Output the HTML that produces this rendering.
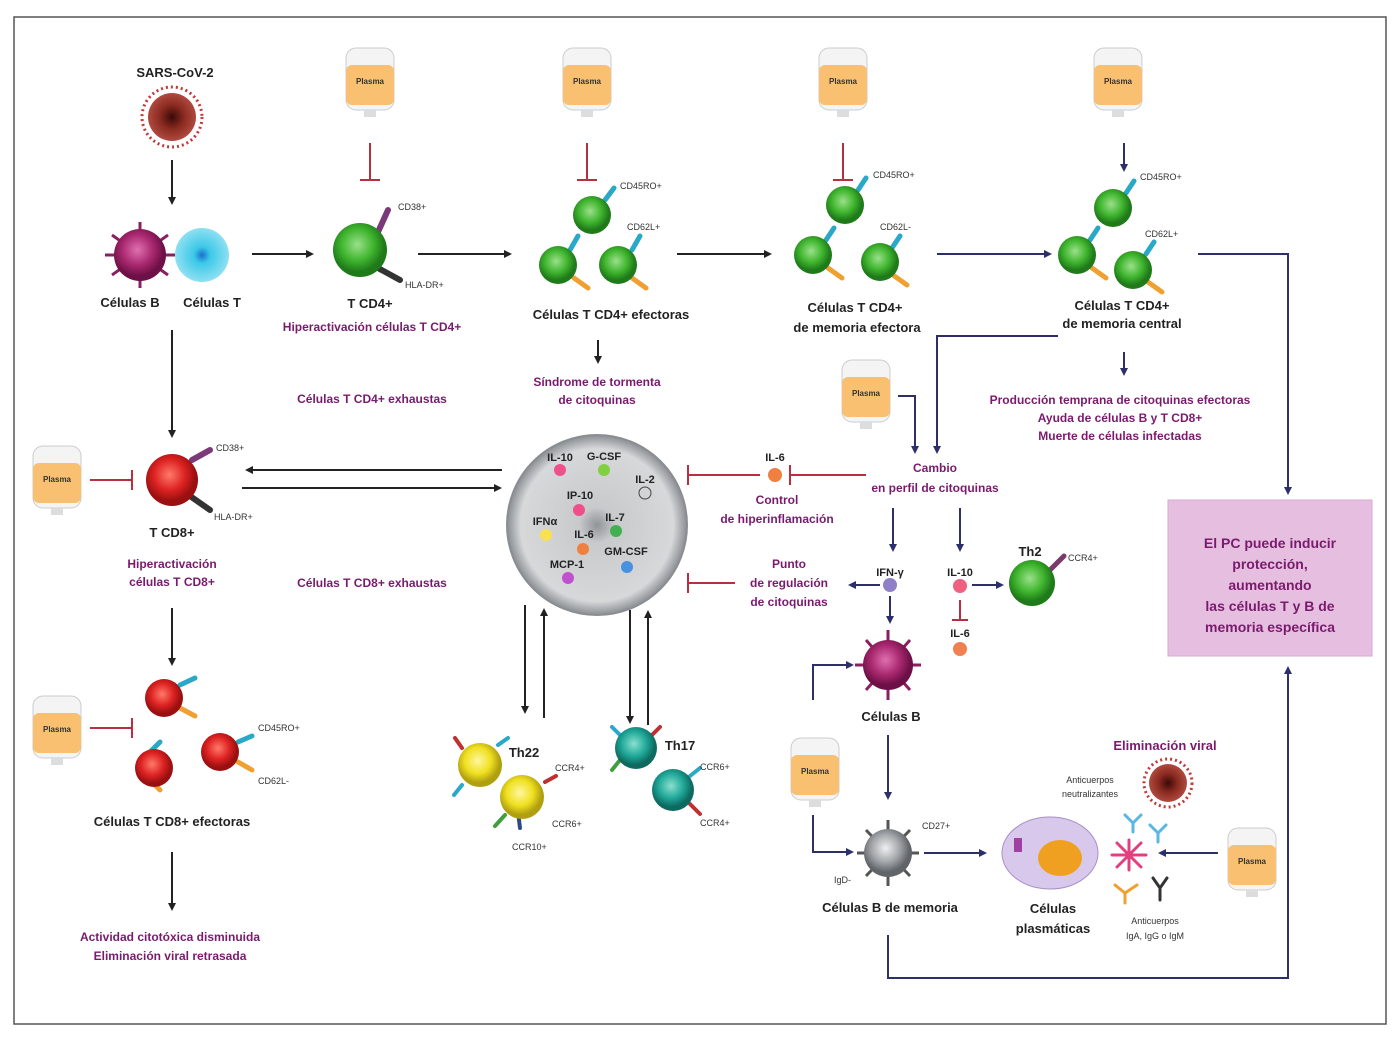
<!DOCTYPE html>
<html><head><meta charset="utf-8"><style>
html,body{margin:0;padding:0;background:#fff}
svg{display:block}
text{font-family:"Liberation Sans",sans-serif;font-weight:bold}
.k{fill:#222;font-size:13px}
.p{fill:#7a1a6e;font-size:12px}
.s{fill:#333;font-size:9px;font-weight:normal}
.c{fill:#222;font-size:11px}
</style></head><body>
<svg width="1400" height="1041" viewBox="0 0 1400 1041" xmlns="http://www.w3.org/2000/svg">
<defs>
<radialGradient id="gG" cx="45%" cy="40%"><stop offset="0" stop-color="#9be08a"/><stop offset="0.6" stop-color="#3fb52e"/><stop offset="1" stop-color="#1f7a1a"/></radialGradient>
<radialGradient id="gR" cx="45%" cy="40%"><stop offset="0" stop-color="#ff7a6a"/><stop offset="0.6" stop-color="#dd2222"/><stop offset="1" stop-color="#9a1010"/></radialGradient>
<radialGradient id="gC" cx="50%" cy="50%"><stop offset="0" stop-color="#1a6fd0"/><stop offset="0.3" stop-color="#3cc8e8"/><stop offset="1" stop-color="#8ee0f2"/></radialGradient>
<radialGradient id="gM" cx="45%" cy="40%"><stop offset="0" stop-color="#e070b0"/><stop offset="0.6" stop-color="#a8286e"/><stop offset="1" stop-color="#6e1048"/></radialGradient>
<radialGradient id="gY" cx="45%" cy="40%"><stop offset="0" stop-color="#fff6a0"/><stop offset="0.6" stop-color="#f0e020"/><stop offset="1" stop-color="#b0a010"/></radialGradient>
<radialGradient id="gT" cx="45%" cy="40%"><stop offset="0" stop-color="#8ae0d0"/><stop offset="0.6" stop-color="#1fa898"/><stop offset="1" stop-color="#0e6a60"/></radialGradient>
<radialGradient id="gS" cx="45%" cy="40%"><stop offset="0" stop-color="#f0f0f0"/><stop offset="0.6" stop-color="#a0a4a8"/><stop offset="1" stop-color="#606468"/></radialGradient>
<radialGradient id="gBig" cx="50%" cy="50%"><stop offset="0" stop-color="#909498"/><stop offset="0.2" stop-color="#c8cacc"/><stop offset="0.85" stop-color="#d6d8da"/><stop offset="1" stop-color="#8a8e92"/></radialGradient>
<radialGradient id="gV" cx="50%" cy="50%"><stop offset="0" stop-color="#3a0a08"/><stop offset="0.5" stop-color="#8a2a20"/><stop offset="1" stop-color="#b04a40"/></radialGradient>
<marker id="ab" markerWidth="8" markerHeight="8" refX="6" refY="4" orient="auto" markerUnits="userSpaceOnUse"><path d="M0,0 L8,4 L0,8z" fill="#2c2f6a"/></marker>
<marker id="ak" markerWidth="8" markerHeight="8" refX="6" refY="4" orient="auto" markerUnits="userSpaceOnUse"><path d="M0,0 L8,4 L0,8z" fill="#222"/></marker>
<g id="bag"><rect x="-24" y="-32" width="48" height="62" rx="10" fill="#f4f4f4" stroke="#ccc"/><rect x="-24" y="-15" width="48" height="40" rx="6" fill="#f8c070"/><rect x="-6" y="30" width="12" height="7" fill="#ddd"/><text x="0" y="4" text-anchor="middle" style="font-size:8px;fill:#333">Plasma</text></g>
</defs>
<rect x="14" y="17" width="1372" height="1007" fill="#fff" stroke="#555" stroke-width="1.5"/>

<text x="175" y="77" class="k" text-anchor="middle">SARS-CoV-2</text>
<g stroke="#c03a3a" stroke-width="3" stroke-dasharray="2 3"><circle cx="172" cy="117" r="30" fill="none"/></g>
<circle cx="172" cy="117" r="24" fill="url(#gV)"/>
<line x1="172" y1="160" x2="172" y2="203" stroke="#222" stroke-width="2" marker-end="url(#ak)"/>

<g stroke="#8a2060" stroke-width="3"><line x1="112" y1="235" x2="168" y2="275"/><line x1="112" y1="275" x2="168" y2="235"/><line x1="140" y1="222" x2="140" y2="288"/><line x1="105" y1="255" x2="175" y2="255"/></g>
<circle cx="140" cy="255" r="26" fill="url(#gM)"/>
<circle cx="202" cy="255" r="27" fill="url(#gC)"/>
<text x="130" y="307" class="k" text-anchor="middle">Células B</text>
<text x="212" y="307" class="k" text-anchor="middle">Células T</text>
<line x1="252" y1="254" x2="312" y2="254" stroke="#222" stroke-width="2" marker-end="url(#ak)"/>
<line x1="172" y1="330" x2="172" y2="436" stroke="#222" stroke-width="2" marker-end="url(#ak)"/>

<use href="#bag" x="370" y="80"/><use href="#bag" x="587" y="80"/><use href="#bag" x="843" y="80"/><use href="#bag" x="1118" y="80"/>
<use href="#bag" x="866" y="392"/><use href="#bag" x="57" y="478"/><use href="#bag" x="57" y="728"/><use href="#bag" x="815" y="770"/><use href="#bag" x="1252" y="860"/>

<g stroke="#b83040" stroke-width="2" fill="none">
<path d="M370 143 V180 M360 180 H380"/><path d="M587 143 V180 M577 180 H597"/><path d="M843 143 V180 M833 180 H853"/>
<path d="M90 480 H132 M132 470 V490"/><path d="M90 728 H132 M132 718 V738"/>
<path d="M866 475 H790 M790 465 V485"/><path d="M760 475 H688 M688 465 V485"/>
<path d="M735 583 H688 M688 573 V593"/><path d="M960 600 V620 M952 620 H968"/>
</g>
<line x1="1124" y1="143" x2="1124" y2="170" stroke="#2c2f6a" stroke-width="2" marker-end="url(#ab)"/>

<g stroke-width="6" stroke-linecap="round"><line x1="378" y1="232" x2="388" y2="210" stroke="#7a3a7a"/><line x1="378" y1="268" x2="400" y2="280" stroke="#333"/></g>
<circle cx="360" cy="250" r="27" fill="url(#gG)"/>
<text x="398" y="210" class="s">CD38+</text><text x="405" y="288" class="s">HLA-DR+</text>
<text x="370" y="308" class="k" text-anchor="middle">T CD4+</text>
<text x="372" y="331" class="p" text-anchor="middle">Hiperactivación células T CD4+</text>
<line x1="418" y1="254" x2="510" y2="254" stroke="#222" stroke-width="2" marker-end="url(#ak)"/>

<g stroke-width="5" stroke-linecap="round"><line x1="605" y1="200" x2="614" y2="188" stroke="#2aa8c8"/><line x1="570" y1="250" x2="578" y2="236" stroke="#2aa8c8"/><line x1="632" y1="250" x2="640" y2="236" stroke="#2aa8c8"/><line x1="574" y1="278" x2="588" y2="288" stroke="#f0a030"/><line x1="632" y1="278" x2="646" y2="288" stroke="#f0a030"/></g>
<circle cx="592" cy="215" r="19" fill="url(#gG)"/><circle cx="558" cy="265" r="19" fill="url(#gG)"/><circle cx="618" cy="265" r="19" fill="url(#gG)"/>
<text x="620" y="189" class="s">CD45RO+</text><text x="627" y="230" class="s">CD62L+</text>
<text x="611" y="319" class="k" text-anchor="middle">Células T CD4+ efectoras</text>
<line x1="598" y1="340" x2="598" y2="362" stroke="#222" stroke-width="2" marker-end="url(#ak)"/>
<text x="597" y="386" class="p" text-anchor="middle">Síndrome de tormenta</text>
<text x="597" y="404" class="p" text-anchor="middle">de citoquinas</text>
<line x1="677" y1="254" x2="770" y2="254" stroke="#222" stroke-width="2" marker-end="url(#ak)"/>

<g stroke-width="5" stroke-linecap="round"><line x1="858" y1="190" x2="866" y2="178" stroke="#2aa8c8"/><line x1="826" y1="240" x2="834" y2="228" stroke="#2aa8c8"/><line x1="892" y1="248" x2="900" y2="236" stroke="#2aa8c8"/><line x1="828" y1="268" x2="842" y2="278" stroke="#f0a030"/><line x1="893" y1="275" x2="907" y2="285" stroke="#f0a030"/></g>
<circle cx="845" cy="205" r="19" fill="url(#gG)"/><circle cx="813" cy="255" r="19" fill="url(#gG)"/><circle cx="880" cy="262" r="19" fill="url(#gG)"/>
<text x="873" y="178" class="s">CD45RO+</text><text x="880" y="230" class="s">CD62L-</text>
<text x="855" y="312" class="k" text-anchor="middle">Células T CD4+</text>
<text x="857" y="332" class="k" text-anchor="middle">de memoria efectora</text>
<line x1="937" y1="254" x2="1050" y2="254" stroke="#2c2f6a" stroke-width="2" marker-end="url(#ab)"/>

<g stroke-width="5" stroke-linecap="round"><line x1="1126" y1="193" x2="1134" y2="181" stroke="#2aa8c8"/><line x1="1090" y1="240" x2="1098" y2="228" stroke="#2aa8c8"/><line x1="1146" y1="254" x2="1154" y2="242" stroke="#2aa8c8"/><line x1="1092" y1="268" x2="1106" y2="278" stroke="#f0a030"/><line x1="1148" y1="282" x2="1162" y2="292" stroke="#f0a030"/></g>
<circle cx="1113" cy="208" r="19" fill="url(#gG)"/><circle cx="1077" cy="255" r="19" fill="url(#gG)"/><circle cx="1133" cy="270" r="19" fill="url(#gG)"/>
<text x="1140" y="180" class="s">CD45RO+</text><text x="1145" y="237" class="s">CD62L+</text>
<text x="1122" y="310" class="k" text-anchor="middle">Células T CD4+</text>
<text x="1122" y="328" class="k" text-anchor="middle">de memoria central</text>
<path d="M1198 254 H1288 V493" fill="none" stroke="#2c2f6a" stroke-width="2" marker-end="url(#ab)"/>
<line x1="1124" y1="352" x2="1124" y2="374" stroke="#2c2f6a" stroke-width="2" marker-end="url(#ab)"/>
<text x="1120" y="404" class="p" text-anchor="middle">Producción temprana de citoquinas efectoras</text>
<text x="1120" y="422" class="p" text-anchor="middle">Ayuda de células B y T CD8+</text>
<text x="1120" y="440" class="p" text-anchor="middle">Muerte de células infectadas</text>
<path d="M1058 336 H937 V452" fill="none" stroke="#2c2f6a" stroke-width="2" marker-end="url(#ab)"/>
<path d="M898 396 H915 V452" fill="none" stroke="#2c2f6a" stroke-width="2" marker-end="url(#ab)"/>

<text x="372" y="403" class="p" text-anchor="middle">Células T CD4+ exhaustas</text>
<text x="372" y="587" class="p" text-anchor="middle">Células T CD8+ exhaustas</text>

<g stroke-width="6" stroke-linecap="round"><line x1="192" y1="460" x2="210" y2="450" stroke="#7a3a7a"/><line x1="190" y1="496" x2="210" y2="510" stroke="#333"/></g>
<circle cx="172" cy="480" r="26" fill="url(#gR)"/>
<text x="216" y="451" class="s">CD38+</text><text x="214" y="520" class="s">HLA-DR+</text>
<text x="172" y="537" class="k" text-anchor="middle">T CD8+</text>
<text x="172" y="568" class="p" text-anchor="middle">Hiperactivación</text>
<text x="172" y="586" class="p" text-anchor="middle">células T CD8+</text>
<line x1="172" y1="608" x2="172" y2="664" stroke="#222" stroke-width="2" marker-end="url(#ak)"/>
<line x1="502" y1="470" x2="247" y2="470" stroke="#222" stroke-width="2" marker-end="url(#ak)"/>
<line x1="242" y1="488" x2="500" y2="488" stroke="#222" stroke-width="2" marker-end="url(#ak)"/>

<g stroke-width="5" stroke-linecap="round"><line x1="180" y1="685" x2="195" y2="678" stroke="#2aa8c8"/><line x1="180" y1="708" x2="195" y2="716" stroke="#f0a030"/><line x1="150" y1="752" x2="160" y2="742" stroke="#2aa8c8"/><line x1="150" y1="780" x2="160" y2="790" stroke="#f0a030"/><line x1="238" y1="742" x2="252" y2="736" stroke="#2aa8c8"/><line x1="238" y1="762" x2="252" y2="770" stroke="#f0a030"/></g>
<circle cx="164" cy="698" r="19" fill="url(#gR)"/><circle cx="154" cy="768" r="19" fill="url(#gR)"/><circle cx="220" cy="752" r="19" fill="url(#gR)"/>
<text x="258" y="731" class="s">CD45RO+</text><text x="258" y="784" class="s">CD62L-</text>
<text x="172" y="826" class="k" text-anchor="middle">Células T CD8+ efectoras</text>
<line x1="172" y1="852" x2="172" y2="909" stroke="#222" stroke-width="2" marker-end="url(#ak)"/>
<text x="170" y="941" class="p" text-anchor="middle">Actividad citotóxica disminuida</text>
<text x="170" y="960" class="p" text-anchor="middle">Eliminación viral retrasada</text>

<circle cx="597" cy="525" r="90" fill="url(#gBig)" stroke="#8a8e92" stroke-width="2"/>
<text x="560" y="461" class="c" text-anchor="middle">IL-10</text><text x="604" y="460" class="c" text-anchor="middle">G-CSF</text><text x="645" y="483" class="c" text-anchor="middle">IL-2</text>
<text x="580" y="499" class="c" text-anchor="middle">IP-10</text><text x="615" y="521" class="c" text-anchor="middle">IL-7</text><text x="545" y="525" class="c" text-anchor="middle">IFNα</text>
<text x="584" y="538" class="c" text-anchor="middle">IL-6</text><text x="626" y="555" class="c" text-anchor="middle">GM-CSF</text><text x="567" y="568" class="c" text-anchor="middle">MCP-1</text>
<circle cx="560" cy="470" r="6" fill="#f0508a"/><circle cx="604" cy="470" r="6" fill="#80d040"/><circle cx="645" cy="493" r="6" fill="none" stroke="#444"/>
<circle cx="579" cy="510" r="6" fill="#f0508a"/><circle cx="616" cy="531" r="6" fill="#40b050"/><circle cx="546" cy="535" r="6" fill="#f8e050"/>
<circle cx="583" cy="549" r="6" fill="#f08040"/><circle cx="627" cy="567" r="6" fill="#4890e0"/><circle cx="568" cy="578" r="6" fill="#c050d0"/>

<g stroke="#222" stroke-width="2"><line x1="525" y1="605" x2="525" y2="712" marker-end="url(#ak)"/><line x1="544" y1="718" x2="544" y2="610" marker-end="url(#ak)"/><line x1="630" y1="610" x2="630" y2="722" marker-end="url(#ak)"/><line x1="648" y1="725" x2="648" y2="612" marker-end="url(#ak)"/></g>

<g stroke-width="4" stroke-linecap="round"><line x1="462" y1="748" x2="455" y2="738" stroke="#c03030"/><line x1="498" y1="745" x2="508" y2="738" stroke="#2aa8c8"/><line x1="462" y1="785" x2="454" y2="795" stroke="#2aa8c8"/><line x1="518" y1="812" x2="520" y2="828" stroke="#2c4a8a"/><line x1="545" y1="782" x2="556" y2="776" stroke="#c03030"/><line x1="505" y1="815" x2="495" y2="826" stroke="#40a040"/></g>
<circle cx="480" cy="765" r="22" fill="url(#gY)"/><circle cx="522" cy="797" r="22" fill="url(#gY)"/>
<text x="524" y="757" class="k" text-anchor="middle">Th22</text>
<text x="555" y="771" class="s">CCR4+</text><text x="552" y="827" class="s">CCR6+</text><text x="512" y="850" class="s">CCR10+</text>

<g stroke-width="4" stroke-linecap="round"><line x1="620" y1="735" x2="612" y2="727" stroke="#2aa8c8"/><line x1="620" y1="760" x2="612" y2="770" stroke="#40a040"/><line x1="652" y1="735" x2="660" y2="727" stroke="#c03030"/><line x1="690" y1="776" x2="700" y2="768" stroke="#2aa8c8"/><line x1="690" y1="804" x2="700" y2="814" stroke="#c03030"/></g>
<circle cx="636" cy="748" r="21" fill="url(#gT)"/><circle cx="673" cy="790" r="21" fill="url(#gT)"/>
<text x="680" y="750" class="k" text-anchor="middle">Th17</text>
<text x="700" y="770" class="s">CCR6+</text><text x="700" y="826" class="s">CCR4+</text>

<text x="775" y="461" class="c" text-anchor="middle">IL-6</text>
<circle cx="775" cy="475" r="7" fill="#f08040"/>
<text x="777" y="504" class="p" text-anchor="middle">Control</text>
<text x="777" y="523" class="p" text-anchor="middle">de hiperinflamación</text>
<text x="935" y="472" class="p" text-anchor="middle">Cambio</text>
<text x="935" y="492" class="p" text-anchor="middle">en perfil de citoquinas</text>
<line x1="893" y1="508" x2="893" y2="550" stroke="#2c2f6a" stroke-width="2" marker-end="url(#ab)"/>
<line x1="960" y1="508" x2="960" y2="550" stroke="#2c2f6a" stroke-width="2" marker-end="url(#ab)"/>
<text x="789" y="568" class="p" text-anchor="middle">Punto</text>
<text x="789" y="587" class="p" text-anchor="middle">de regulación</text>
<text x="789" y="606" class="p" text-anchor="middle">de citoquinas</text>
<text x="890" y="576" class="c" text-anchor="middle">IFN-γ</text>
<circle cx="890" cy="585" r="7" fill="#9080c8"/>
<line x1="880" y1="585" x2="850" y2="585" stroke="#2c2f6a" stroke-width="2" marker-end="url(#ab)"/>
<line x1="890" y1="596" x2="890" y2="622" stroke="#2c2f6a" stroke-width="2" marker-end="url(#ab)"/>
<text x="960" y="576" class="c" text-anchor="middle">IL-10</text>
<circle cx="960" cy="586" r="7" fill="#f06080"/>
<line x1="972" y1="585" x2="1002" y2="585" stroke="#2c2f6a" stroke-width="2" marker-end="url(#ab)"/>
<text x="960" y="637" class="c" text-anchor="middle">IL-6</text>
<circle cx="960" cy="649" r="7" fill="#f08050"/>
<line x1="1050" y1="570" x2="1064" y2="556" stroke="#7a3a6a" stroke-width="5" stroke-linecap="round"/>
<circle cx="1032" cy="583" r="23" fill="url(#gG)"/>
<text x="1030" y="556" class="k" text-anchor="middle">Th2</text>
<text x="1068" y="561" class="s">CCR4+</text>

<rect x="1168" y="500" width="204" height="156" fill="#e6bfe0" stroke="#d8a8d2"/>
<text x="1270" y="548" class="p" style="font-size:14px" text-anchor="middle">El PC puede inducir</text>
<text x="1270" y="569" class="p" style="font-size:14px" text-anchor="middle">protección,</text>
<text x="1270" y="590" class="p" style="font-size:14px" text-anchor="middle">aumentando</text>
<text x="1270" y="611" class="p" style="font-size:14px" text-anchor="middle">las células T y B de</text>
<text x="1270" y="632" class="p" style="font-size:14px" text-anchor="middle">memoria específica</text>

<g stroke="#8a2060" stroke-width="3"><line x1="866" y1="640" x2="910" y2="690"/><line x1="866" y1="690" x2="910" y2="640"/><line x1="888" y1="630" x2="888" y2="700"/><line x1="855" y1="665" x2="921" y2="665"/></g>
<circle cx="888" cy="665" r="25" fill="url(#gM)"/>
<text x="891" y="721" class="k" text-anchor="middle">Células B</text>
<path d="M813 700 V665 H852" fill="none" stroke="#2c2f6a" stroke-width="2" marker-end="url(#ab)"/>
<line x1="888" y1="735" x2="888" y2="798" stroke="#2c2f6a" stroke-width="2" marker-end="url(#ab)"/>
<path d="M813 815 V852 H852" fill="none" stroke="#2c2f6a" stroke-width="2" marker-end="url(#ab)"/>
<g stroke="#555" stroke-width="3"><line x1="866" y1="830" x2="910" y2="876"/><line x1="866" y1="876" x2="910" y2="830"/><line x1="888" y1="820" x2="888" y2="886"/><line x1="857" y1="853" x2="919" y2="853"/></g>
<circle cx="888" cy="853" r="24" fill="url(#gS)"/>
<text x="922" y="829" class="s">CD27+</text><text x="834" y="883" class="s">IgD-</text>
<text x="890" y="912" class="k" text-anchor="middle">Células B de memoria</text>
<line x1="924" y1="853" x2="985" y2="853" stroke="#2c2f6a" stroke-width="2" marker-end="url(#ab)"/>
<ellipse cx="1050" cy="853" rx="48" ry="36" fill="#d8c8ec" stroke="#a890c8"/>
<ellipse cx="1060" cy="858" rx="22" ry="18" fill="#f0a020"/>
<rect x="1014" y="838" width="8" height="14" fill="#a040a0"/>
<text x="1053" y="913" class="k" text-anchor="middle">Células</text>
<text x="1053" y="933" class="k" text-anchor="middle">plasmáticas</text>
<text x="1165" y="750" class="p" text-anchor="middle" style="font-size:13px">Eliminación viral</text>
<g stroke="#c03a3a" stroke-width="3" stroke-dasharray="2 3"><circle cx="1168" cy="783" r="24" fill="none"/></g>
<circle cx="1168" cy="783" r="19" fill="url(#gV)"/>
<text x="1090" y="783" class="s" text-anchor="middle">Anticuerpos</text>
<text x="1090" y="797" class="s" text-anchor="middle">neutralizantes</text>
<g stroke-width="3" fill="none" stroke-linecap="round">
<path d="M1125 815 L1133 823 L1141 815 M1133 823 V832" stroke="#5ab8e0"/><path d="M1150 825 L1158 833 L1166 825 M1158 833 V842" stroke="#5ab8e0"/>
<path d="M1112 855 H1146 M1129 840 V870 M1117 843 L1141 867 M1141 843 L1117 867" stroke="#e04080"/>
<path d="M1115 885 L1125 893 L1137 885 M1125 893 V903" stroke="#f0a030"/><path d="M1153 878 L1160 888 L1167 878 M1160 888 V900" stroke="#333"/>
</g>
<line x1="1218" y1="853" x2="1160" y2="853" stroke="#2c2f6a" stroke-width="2" marker-end="url(#ab)"/>
<text x="1155" y="924" class="s" text-anchor="middle">Anticuerpos</text>
<text x="1155" y="939" class="s" text-anchor="middle">IgA, IgG o IgM</text>
<path d="M888 935 V978 H1288 V668" fill="none" stroke="#2c2f6a" stroke-width="2" marker-end="url(#ab)"/>
</svg>
</body></html>
